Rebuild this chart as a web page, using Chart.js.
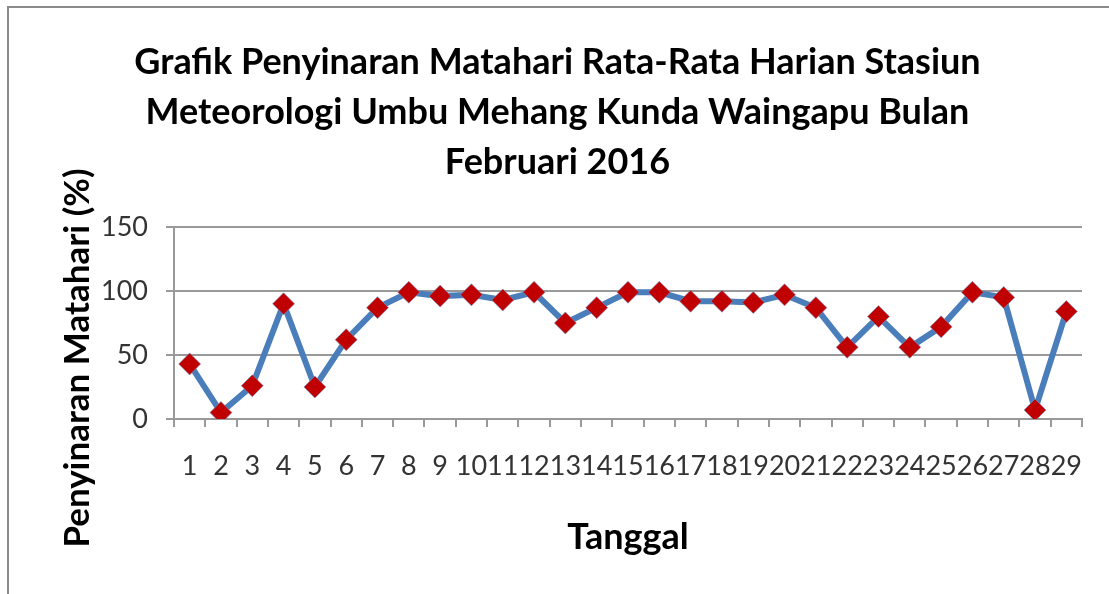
<!DOCTYPE html>
<html lang="id">
<head>
    <meta charset="UTF-8">
    <title>Grafik Penyinaran Matahari</title>
    <script src="https://cdn.jsdelivr.net/npm/chart.js"></script>
    <style>
        html, body { margin: 0; padding: 0; background: #fff; }
        .wrap { position: relative; width: 1109px; height: 594px; }
    </style>
</head>
<body>
    <div class="wrap">
        <canvas id="sunChart" width="1109" height="594"></canvas>
    </div>

    <script>
        // data
        const tanggal = ['1','2','3','4','5','6','7','8','9','10','11','12','13','14','15',
                         '16','17','18','19','20','21','22','23','24','25','26','27','28','29'];
        const penyinaran = [43, 5, 26, 90, 25, 62, 87, 99, 96, 97, 93, 99, 75, 87, 99,
                            99, 92, 92, 91, 97, 87, 56, 80, 56, 72, 99, 95, 7, 84];
        const yTicks = [0, 50, 100, 150];
        const judul = ['Grafik Penyinaran Matahari Rata-Rata Harian Stasiun',
                       'Meteorologi Umbu Mehang Kunda Waingapu Bulan',
                       'Februari 2016'];
        const judulY = 'Penyinaran Matahari (%)';
        const judulX = 'Tanggal';

        const fontName = 'Lato, "Open Sans", sans-serif';

        // garis tepi kiri dan atas
        const frame = {
            id: 'frame',
            afterDraw(chart) {
                const ctx = chart.ctx;
                ctx.save();
                ctx.strokeStyle = '#8a8a8a';
                ctx.lineWidth = 2;
                ctx.beginPath();
                ctx.moveTo(8, 594);
                ctx.lineTo(8, 7);
                ctx.lineTo(1109, 7);
                ctx.stroke();
                ctx.restore();
            }
        };

        // judul sumbu Y, agak ke bawah seperti di Excel
        const yTitle = {
            id: 'yTitle',
            afterDraw(chart) {
                const ctx = chart.ctx;
                ctx.save();
                ctx.translate(78, 358);
                ctx.rotate(-Math.PI / 2);
                ctx.fillStyle = '#000';
                ctx.font = 'bold 35px ' + fontName;
                ctx.textAlign = 'center';
                ctx.textBaseline = 'middle';
                ctx.fillText(judulY, 0, 0);
                ctx.restore();
            }
        };

        new Chart(document.getElementById('sunChart'), {
            type: 'line',
            data: {
                labels: tanggal,
                datasets: [{
                    data: penyinaran,
                    borderColor: '#4a7ebb',
                    borderWidth: 6,
                    tension: 0,
                    pointStyle: 'rectRot',
                    pointRadius: 11,
                    pointBackgroundColor: '#c00000',
                    pointBorderColor: 'rgba(120,150,200,0.6)',
                    pointBorderWidth: 1
                }]
            },
            options: {
                responsive: false,
                animation: false,
                layout: { padding: { top: 37, left: 33, right: 27, bottom: 35 } },
                plugins: {
                    legend: { display: false },
                    tooltip: { enabled: false },
                    title: {
                        display: true,
                        text: judul,
                        color: '#000',
                        font: { family: fontName, size: 36, weight: 'bold', lineHeight: 50 / 36 },
                        padding: { top: 0, bottom: 40 }
                    }
                },
                scales: {
                    x: {
                        offset: true,
                        grid: { offset: true, drawOnChartArea: false, tickLength: 8, color: '#999', lineWidth: 2 },
                        border: { color: '#999', width: 2 },
                        ticks: {
                            autoSkip: false, maxRotation: 0, padding: 23,
                            color: '#333', font: { family: fontName, size: 27 }
                        },
                        title: {
                            display: true, text: judulX, color: '#000',
                            font: { family: fontName, size: 36, weight: 'bold' },
                            padding: 0
                        },
                        afterFit(scale) { scale.height = 140; }
                    },
                    y: {
                        min: 0, max: 150,
                        afterBuildTicks(scale) { scale.ticks = yTicks.map(v => ({ value: v })); },
                        grid: { tickLength: 8, color: '#999', lineWidth: 2 },
                        border: { color: '#999', width: 2 },
                        ticks: { padding: 18, color: '#333', font: { family: fontName, size: 27 } },
                        afterFit(scale) { scale.width = 141; }
                    }
                }
            },
            plugins: [frame, yTitle]
        });
    </script>
</body>
</html>
